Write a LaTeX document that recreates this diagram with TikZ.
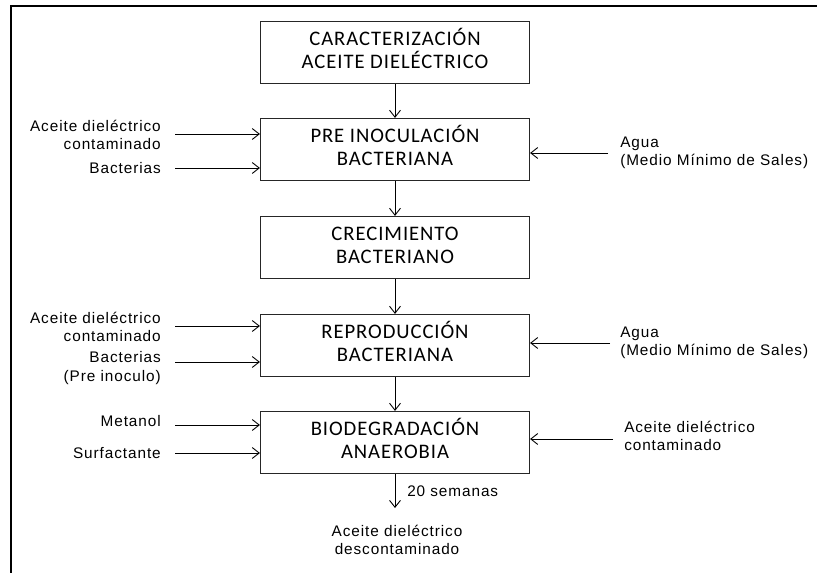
\documentclass[tikz,border=0pt]{standalone}
\usepackage{fontspec}
\setmainfont[LetterSpace=6]{Liberation Sans}
\newfontfamily\stagefont[LetterSpace=4.5]{Carlito}
\usetikzlibrary{arrows.meta}

\newlength{\du}
\setlength{\du}{0.75pt}

\tikzset{
  stagebox/.style={draw=black!85, line width=1.2\du, minimum width=269\du,
    minimum height=62\du, inner sep=0pt, align=center,
    text height=23.4pt, text depth=0pt,
    font=\stagefont\fontsize{15.5}{17.2}\selectfont},
  feed/.style={-{Straight Barb[length=5.2pt,width=8.2pt]}, line width=0.9\du},
  intext/.style={anchor=east, align=right, inner sep=0pt,
    font=\fontsize{11.5}{14}\selectfont},
  sidetext/.style={anchor=west, align=left, inner sep=0pt,
    font=\fontsize{11.5}{13.5}\selectfont},
}

\begin{document}
\begin{tikzpicture}
\pgftransformxscale{1.000000}
\pgftransformyscale{-1.000000}
\useasboundingbox (0\du,0\du) rectangle (817\du,573\du);
% frame
\draw[line width=2\du] (11\du,580\du)--(11\du,6\du)--(830\du,6\du);
% stages
\node[stagebox] (caract) at (395\du,52.5\du){CARACTERIZACIÓN\\ACEITE DIELÉCTRICO};
\node[stagebox] (preino) at (395\du,149.5\du){PRE INOCULACIÓN\\BACTERIANA};
\node[stagebox] (crecim) at (395\du,247.5\du){CRECIMIENTO\\BACTERIANO};
\node[stagebox] (reprod) at (395\du,345.5\du){REPRODUCCIÓN\\BACTERIANA};
\node[stagebox] (biodeg) at (395\du,442.5\du){BIODEGRADACIÓN\\ANAEROBIA};
\draw[feed] (caract)--(preino);
\draw[feed] (preino)--(crecim);
\draw[feed] (crecim)--(reprod);
\draw[feed] (reprod)--(biodeg);
% inputs pre inoculacion
\node[intext] (preaceite) at (161\du,135\du){Aceite dieléctrico\\contaminado};
\node[intext] (prebact) at (161\du,168\du){Bacterias};
\coordinate (preaceiteA) at (175\du,134\du);
\coordinate (prebactA) at (175\du,168\du);
\draw[feed] (preaceiteA)--(preaceiteA -| preino.west);
\draw[feed] (prebactA)--(prebactA -| preino.west);
\node[sidetext] (preagua) at (620\du,152.5\du){Agua\\(Medio Mínimo de Sales)};
\coordinate (preaguaA) at (608\du,153\du);
\draw[feed] (preaguaA)--(preaguaA -| preino.east);
% inputs reproduccion
\node[intext] (repaceite) at (161\du,327\du){Aceite dieléctrico\\contaminado};
\node[intext] (repbact) at (161\du,368\du){Bacterias\\(Pre inoculo)};
\coordinate (repaceiteA) at (175\du,326\du);
\coordinate (repbactA) at (175\du,362\du);
\draw[feed] (repaceiteA)--(repaceiteA -| reprod.west);
\draw[feed] (repbactA)--(repbactA -| reprod.west);
\node[sidetext] (repagua) at (620\du,342.5\du){Agua\\(Medio Mínimo de Sales)};
\coordinate (repaguaA) at (610\du,343\du);
\draw[feed] (repaguaA)--(repaguaA -| reprod.east);
% inputs biodegradacion
\node[intext] (biometa) at (161\du,421\du){Metanol};
\node[intext] (biosurf) at (161\du,453\du){Surfactante};
\coordinate (biometaA) at (175\du,425\du);
\coordinate (biosurfA) at (175\du,453\du);
\draw[feed] (biometaA)--(biometaA -| biodeg.west);
\draw[feed] (biosurfA)--(biosurfA -| biodeg.west);
\node[sidetext] (bioaceite) at (624\du,436\du){Aceite dieléctrico\\contaminado};
\coordinate (bioaceiteA) at (613\du,439\du);
\draw[feed] (bioaceiteA)--(bioaceiteA -| biodeg.east);
% salida
\coordinate (salidaA) at (395\du,508\du);
\draw[feed] (biodeg)--(salidaA);
\node[sidetext] (tiempo) at (407\du,491\du){20 semanas};
\node[sidetext, anchor=center, align=center] (salida) at (397\du,540\du){Aceite dieléctrico\\descontaminado};
\end{tikzpicture}
\end{document}
